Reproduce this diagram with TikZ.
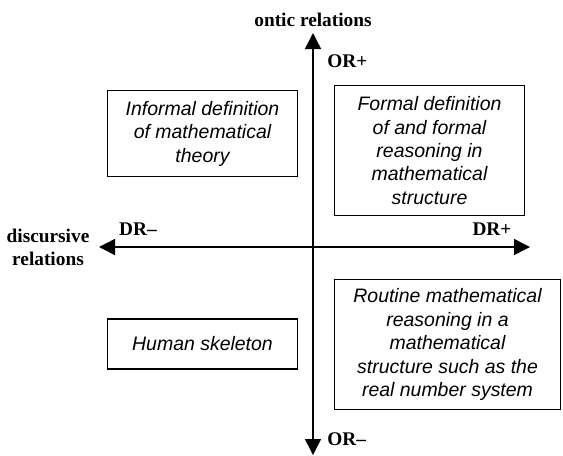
\documentclass[tikz,border=0pt]{standalone}
\usepackage{fontspec}
\setmainfont{Liberation Serif}
\setsansfont{Liberation Sans}
\usetikzlibrary{arrows.meta,positioning}

\begin{document}
\begin{tikzpicture}[
    x=0.75pt, y=-0.75pt,
    box/.style={rectangle, draw=black, line width=0.8pt, align=center, inner sep=0pt, font=\sffamily\itshape\fontsize{14.6}{17.6}\selectfont},
    axis/.style={{Triangle[length=12pt,width=12pt]}-{Triangle[length=12pt,width=12pt]}, line width=1.1pt},
    lbl/.style={font=\bfseries\fontsize{14.5}{17.3}\selectfont, inner sep=0pt, align=center}
]
\useasboundingbox (0,0) rectangle (563,455);
% axes
\coordinate (top) at (313,33);
\coordinate (bottom) at (313,455);
\coordinate (left) at (99,247);
\coordinate (right) at (530,247);
\draw[axis] (bottom) -- (top);
\draw[axis] (left) -- (right);
% axis labels
\node[lbl] (ontic) at (313,20) {ontic relations};
\node[lbl, anchor=west] (orplus) at (327,61) {OR+};
\node[lbl, anchor=west] (orminus) at (327,439) {OR–};
\node[lbl] (drminus) at (138,229) {DR–};
\node[lbl] (drplus) at (492,229) {DR+};
\node[lbl] (discursive) at (48,247.5) {discursive\\relations};
% quadrants
\node[box, minimum width=143pt, minimum height=65pt] (informal) at (202.5,133.5) {Informal definition\\of mathematical\\theory};
\node[box, minimum width=143pt, minimum height=97pt] (formal) at (429.5,150.5) {Formal definition\\of and formal\\reasoning in\\mathematical\\structure};
\node[box, minimum width=143pt, minimum height=37.5pt] (skeleton) at (202.5,344) {Human skeleton};
\node[box, minimum width=169.5pt, minimum height=97pt] (routine) at (447.5,344.5) {Routine mathematical\\reasoning in a\\mathematical\\structure such as the\\real number system};
\end{tikzpicture}
\end{document}
